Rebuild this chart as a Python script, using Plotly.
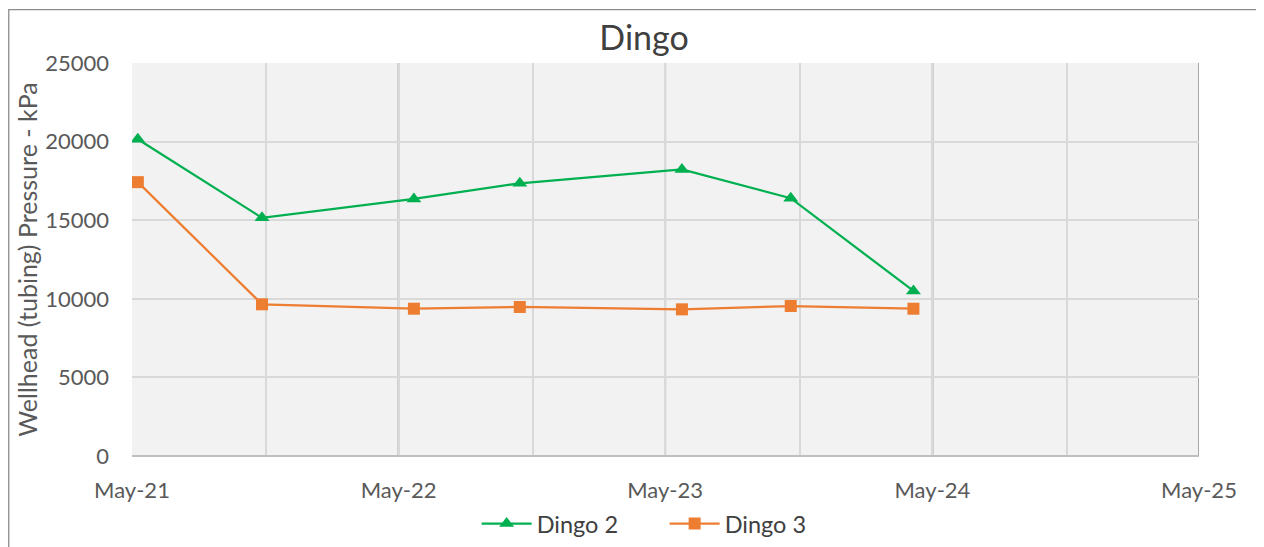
import plotly.graph_objects as go

dates = ["2021-05-09", "2021-10-26", "2022-05-22", "2022-10-14",
         "2023-05-24", "2023-10-20", "2024-04-05"]
dingo2 = [20150, 15150, 16350, 17350, 18230, 16400, 10500]
dingo3 = [17420, 9650, 9370, 9480, 9330, 9540, 9370]

x_range = ["2021-05-01", "2025-05-01"]
year_lines = ["2022-05-01", "2023-05-01", "2024-05-01", "2025-05-01"]
y_range = [0, 25000]

green = "#00b050"
orange = "#ed7d31"
font_family = "Lato, 'Open Sans', sans-serif"

fig = go.Figure()
fig.add_trace(go.Scatter(
    x=dates, y=dingo2, name="Dingo 2", mode="lines+markers",
    line=dict(color=green, width=2.25),
    marker=dict(symbol="triangle-up", size=13, color=green),
))
fig.add_trace(go.Scatter(
    x=dates, y=dingo3, name="Dingo 3", mode="lines+markers",
    line=dict(color=orange, width=2.25),
    marker=dict(symbol="square", size=12, color=orange),
))

shapes = []
for d in year_lines:
    shapes.append(dict(type="line", xref="x", yref="paper", x0=d, x1=d, y0=0, y1=1,
                       line=dict(color="#a6a6a6", width=2), layer="between"))
# outer chart border
shapes.append(dict(type="rect", xref="paper", yref="paper",
                   x0=-0.1155, x1=1.059, y0=-0.25, y1=1.136,
                   line=dict(color="#8c8c8c", width=1.3), layer="below"))

fig.update_layout(
    width=1256, height=539,
    margin=dict(l=124, r=65, t=55, b=91),
    paper_bgcolor="white",
    plot_bgcolor="#f2f2f2",
    font=dict(family=font_family, color="#595959", size=22),
    title=dict(text="Dingo", x=0.5064, xanchor="center", y=0.944, yanchor="middle",
               font=dict(size=34, color="#404040", family=font_family)),
    xaxis=dict(
        type="date", range=x_range, dtick="M12", tick0="2021-05-01",
        tickformat="%b-%y", showgrid=True, gridcolor="#d9d9d9", gridwidth=2,
        minor=dict(tick0="2021-05-01", dtick="M6", showgrid=True,
                   gridcolor="#d9d9d9", gridwidth=2),
        showline=False, zeroline=False, ticks="", ticklen=0,
        ticklabelstandoff=19,
        tickfont=dict(size=22, color="#595959"), automargin=False,
    ),
    yaxis=dict(
        range=y_range, dtick=5000, tickformat="d",
        showgrid=True, gridcolor="#d9d9d9", gridwidth=2,
        zeroline=True, zerolinecolor="#bfbfbf", zerolinewidth=2,
        tickfont=dict(size=22, color="#595959"), ticks="", ticklen=0,
        ticklabelstandoff=22,
        automargin=False,
        title=dict(text="Wellhead (tubing) Pressure - kPa", standoff=0,
                   font=dict(size=25, color="#595959")),
    ),
    legend=dict(orientation="h", x=0.4992, xanchor="center",
                yref="container", y=0.043, yanchor="middle",
                itemwidth=50, entrywidth=123,
                font=dict(size=23.5, color="#404040"), bgcolor="rgba(0,0,0,0)"),
    shapes=shapes,
)

fig.write_html("out.html")
